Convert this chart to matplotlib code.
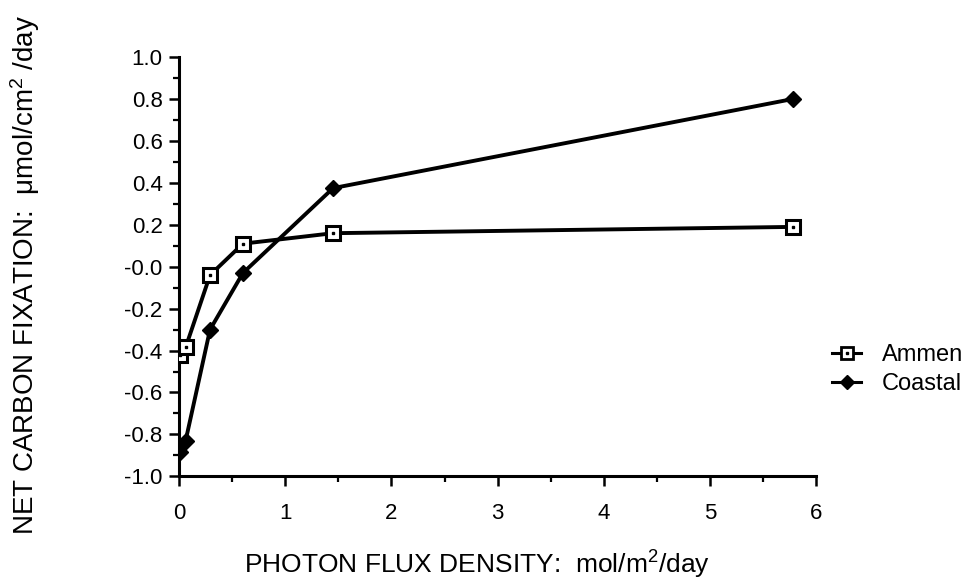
import numpy as np
import matplotlib
matplotlib.use("Agg")
from matplotlib import pyplot as plt
from matplotlib.ticker import MultipleLocator, FixedLocator

plt.rcParams['font.family'] = ['Liberation Sans', 'DejaVu Sans']
plt.rcParams['mathtext.fontset'] = 'custom'
plt.rcParams['mathtext.rm'] = 'Liberation Sans'
plt.rcParams['mathtext.it'] = 'Liberation Sans'

# data
flux = [0.01, 0.06, 0.29, 0.60, 1.45, 5.78]
ammen = [-0.42, -0.385, -0.04, 0.11, 0.16, 0.19]
coastal = [-0.885, -0.83, -0.30, -0.03, 0.375, 0.80]
yticks = [-1.0, -0.8, -0.6, -0.4, -0.2, 0.0, 0.2, 0.4, 0.6, 0.8, 1.0]
yticklabels = ['-1.0', '-0.8', '-0.6', '-0.4', '-0.2', '-0.0',
               '0.2', '0.4', '0.6', '0.8', '1.0']
names = ['Ammen', 'Coastal']

fig = plt.figure(figsize=(9.69, 5.83), dpi=100)
ax = fig.add_axes([0.185, 0.183, 0.657, 0.719])

lc, = ax.plot(flux, coastal, color='black', lw=2.8, marker='D', ms=8,
              mfc='black', mec='black', zorder=3)
la, = ax.plot(flux, ammen, color='black', lw=2.8, marker='s', ms=10,
              mfc='white', mec='black', mew=2.2, zorder=4)
ax.plot(flux, ammen, ls='none', marker='s', ms=2, color='black', zorder=5)

ax.set_xlim(0, 6)
ax.set_ylim(-1.0, 1.0)
ax.xaxis.set_major_locator(MultipleLocator(1))
ax.xaxis.set_minor_locator(MultipleLocator(0.5))
ax.yaxis.set_major_locator(FixedLocator(yticks))
ax.set_yticklabels(yticklabels)
ax.yaxis.set_minor_locator(MultipleLocator(0.1))

for s in ['top', 'right']:
    ax.spines[s].set_visible(False)
for s in ['left', 'bottom']:
    ax.spines[s].set_linewidth(2.2)
ax.tick_params(which='major', direction='out', length=7, width=1.8,
               labelsize=16, pad=5)
ax.tick_params(axis='x', which='major', pad=12)
ax.tick_params(which='minor', direction='out', length=4, width=1.6)

ax.set_xlabel(r'PHOTON FLUX DENSITY:  mol/m$^{2}$/day', fontsize=19)
ax.xaxis.set_label_coords(0.468, -0.172)
ax.set_ylabel(r'NET CARBON FIXATION:  $\mathrm{\mu}$mol/cm$^{2}$ /day',
              fontsize=20)
ax.yaxis.set_label_coords(-0.215, 0.48)

# legend handles drawn smaller than the plot markers
ha, = ax.plot([], [], color='black', lw=2.2, marker='s', ms=8, mfc='white',
              mec='black', mew=2)
hd, = ax.plot([], [], ls='none', marker='s', ms=1.8, color='black')
hc, = ax.plot([], [], color='black', lw=2.2, marker='D', ms=7)
ax.legend([(ha, hd), hc], names, loc='center left',
          bbox_to_anchor=(1.0, 0.255), frameon=False, fontsize=17,
          handlelength=1.2, labelspacing=0.3, handletextpad=0.9,
          borderpad=0.2)

fig.savefig('out.png', dpi=100)
